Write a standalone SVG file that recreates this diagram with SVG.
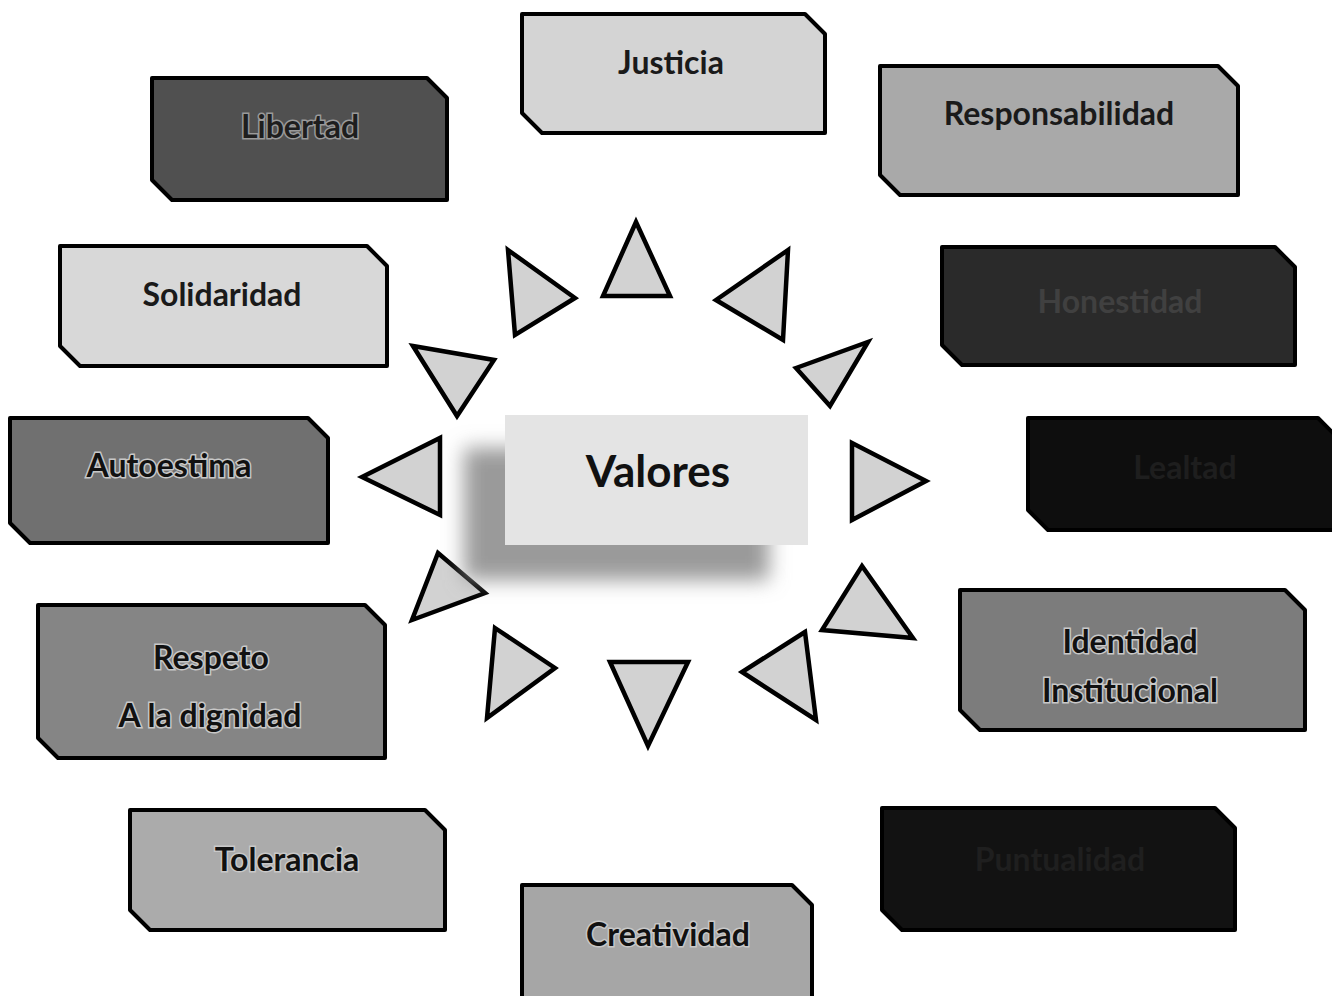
<svg xmlns="http://www.w3.org/2000/svg" width="1332" height="996" viewBox="0 0 1332 996">
<defs>
<filter id="blur" x="-20%" y="-20%" width="140%" height="140%"><feGaussianBlur stdDeviation="10"/></filter>
<style>
.box{stroke:#000;stroke-width:4;stroke-linejoin:round}
.tri{fill:#d2d2d2;stroke:#000;stroke-width:4.5;stroke-linejoin:miter}
text{font-family:Lato,"Open Sans","Liberation Sans",sans-serif;font-weight:bold;text-anchor:middle}
.lbl{font-size:32px;fill:#1a1a1a}
.halo{font-size:32px;fill:#111;stroke:#c8c8c8;stroke-width:3;paint-order:stroke}
.dim{font-size:32px;fill:#2e2e2e}
</style>
</defs>
<rect width="1332" height="996" fill="#fff"/>

<g id="connectors">
<polygon class="tri" points="636,222 603,296 670,296"/>
<polygon class="tri" points="508,250 575,298 515,335"/>
<polygon class="tri" points="788,250 716,300 783,340"/>
<polygon class="tri" points="413,346 494,360 457,416"/>
<polygon class="tri" points="796,368 868,342 830,406"/>
<polygon class="tri" points="362,477 440,438 440,515"/>
<polygon class="tri" points="852,443 926,481 852,520"/>
<polygon class="tri" points="438,553 485,593 412,620"/>
<polygon class="tri" points="862,566 913,638 822,630"/>
<polygon class="tri" points="495,628 555,668 487,718"/>
<polygon class="tri" points="610,662 688,662 648,746"/>
<polygon class="tri" points="805,632 742,672 816,720"/>
</g>

<g id="valores">
<rect x="464" y="448" width="305" height="132" fill="#9a9a9a" filter="url(#blur)"/>
<rect x="505" y="415" width="303" height="130" fill="#e4e4e4"/>
<text x="658" y="487" style="font-size:44px;fill:#111">Valores</text>
</g>

<g id="justicia">
<path class="box" fill="#d4d4d4" d="M522,14 L805,14 L825,34 L825,133 L542,133 L522,113 Z"/>
<text class="lbl" x="671" y="74">Justicia</text>
</g>

<g id="libertad">
<path class="box" fill="#505050" d="M152,78 L427,78 L447,98 L447,200 L172,200 L152,180 Z"/>
<text class="halo" x="300" y="138" style="fill:#1e1e1e;stroke:#9a9a9a">Libertad</text>
</g>

<g id="responsabilidad">
<path class="box" fill="#a9a9a9" d="M880,66 L1218,66 L1238,86 L1238,195 L900,195 L880,175 Z"/>
<text class="lbl" x="1059" y="125">Responsabilidad</text>
</g>

<g id="solidaridad">
<path class="box" fill="#d8d8d8" d="M60,246 L367,246 L387,266 L387,366 L80,366 L60,346 Z"/>
<text class="lbl" x="222" y="306">Solidaridad</text>
</g>

<g id="honestidad">
<path class="box" fill="#2a2a2a" d="M942,247 L1275,247 L1295,267 L1295,365 L962,365 L942,345 Z"/>
<text class="dim" x="1120" y="313" style="fill:#404040">Honestidad</text>
</g>

<g id="autoestima">
<path class="box" fill="#707070" d="M10,418 L308,418 L328,438 L328,543 L30,543 L10,523 Z"/>
<text class="halo" x="169" y="477">Autoestima</text>
</g>

<g id="lealtad">
<path class="box" fill="#0e0e0e" d="M1028,418 L1318,418 L1334,434 L1334,530 L1048,530 L1028,510 Z"/>
<text class="dim" x="1185" y="479" style="fill:#1e1e1e">Lealtad</text>
</g>

<g id="respeto">
<path class="box" fill="#858585" d="M38,605 L365,605 L385,625 L385,758 L58,758 L38,738 Z"/>
<text class="halo" x="211" y="669">Respeto</text>
<text class="halo" x="210" y="727">A la dignidad</text>
</g>

<g id="identidad">
<path class="box" fill="#7c7c7c" d="M960,590 L1285,590 L1305,610 L1305,730 L980,730 L960,710 Z"/>
<text class="halo" x="1130" y="653">Identidad</text>
<text class="halo" x="1130" y="702">Institucional</text>
</g>

<g id="tolerancia">
<path class="box" fill="#ababab" d="M130,810 L425,810 L445,830 L445,930 L150,930 L130,910 Z"/>
<text class="halo" x="287" y="871">Tolerancia</text>
</g>

<g id="puntualidad">
<path class="box" fill="#121212" d="M882,808 L1215,808 L1235,828 L1235,930 L902,930 L882,910 Z"/>
<text class="dim" x="1060" y="871" style="fill:#1f1f1f">Puntualidad</text>
</g>

<g id="creatividad">
<path class="box" fill="#a6a6a6" d="M522,885 L792,885 L812,905 L812,1000 L522,1000 Z"/>
<text class="halo" x="668" y="946">Creatividad</text>
</g>
</svg>
